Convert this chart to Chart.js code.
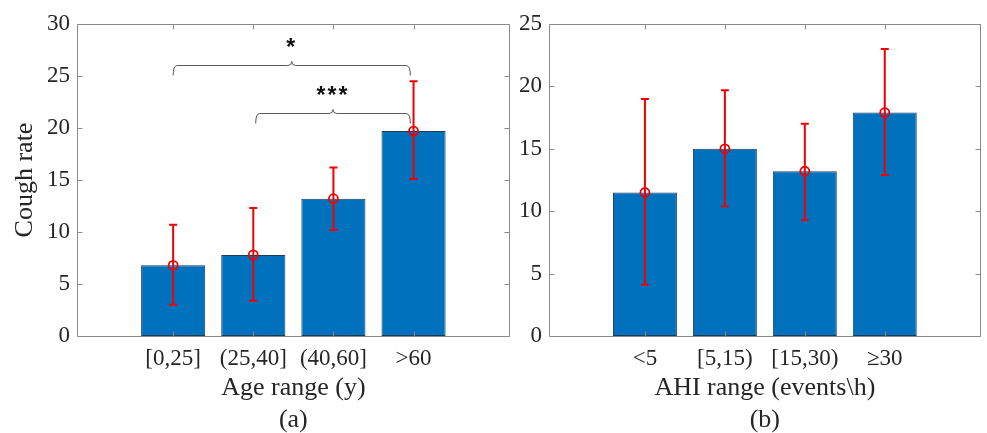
<!DOCTYPE html>
<html lang="en">
<head>
<meta charset="UTF-8">
<title>Cough rate by age and AHI</title>
<script src="https://cdn.jsdelivr.net/npm/chart.js@4"></script>
<style>
  body { margin: 0; background: #ffffff; overflow: hidden; }
  #wrap { position: relative; width: 987px; height: 433px; }
  canvas { position: absolute; top: 0; }
  #ageChart { left: 0; }
  #ahiChart { left: 505px; }
</style>
</head>
<body>
<div id="wrap">
  <canvas id="ageChart" width="516" height="433"></canvas>
  <canvas id="ahiChart" width="482" height="433"></canvas>
</div>
<script>
// panel (a): age groups
const ageLabels = ['[0,25]', '(25,40]', '(40,60]', '>60'];
const ageMean = [6.8, 7.8, 13.2, 19.7];
const ageLow = [3.0, 3.4, 10.2, 15.1];
const ageHigh = [10.7, 12.3, 16.2, 24.5];

// panel (b): AHI groups
const ahiLabels = ['<5', '[5,15)', '[15,30)', '≥30'];
const ahiMean = [11.5, 15.0, 13.2, 17.9];
const ahiLow = [4.1, 10.4, 9.3, 12.9];
const ahiHigh = [19.0, 19.7, 17.0, 23.0];

// significance brackets on panel (a)
const sigFrom = [1, 2.03];
const sigTo = [3.96, 3.96];
const sigLevel = [26.05, 21.4];
const sigText = ['*', '***'];

const SERIF = "'Liberation Serif', 'Times New Roman', serif";
const TEXT = '#262626';
const AXIS = '#8a8a8a';
const RED = '#f00000';

// box around the axes with inward ticks on all four sides
const framePlugin = {
  id: 'frame',
  afterDraw(chart) {
    const { ctx, chartArea: a, scales: { x, y } } = chart;
    const L = Math.round(a.left) + 0.5, R = Math.round(a.right) - 0.5;
    const T = Math.round(a.top) + 0.5, B = Math.round(a.bottom) + 0.5;
    ctx.save();
    ctx.strokeStyle = AXIS;
    ctx.lineWidth = 1;
    ctx.beginPath();
    ctx.moveTo(L, T); ctx.lineTo(R, T); ctx.lineTo(R, B); ctx.lineTo(L, B); ctx.closePath();
    y.ticks.forEach(t => {
      const py = Math.round(y.getPixelForValue(t.value)) + 0.5;
      ctx.moveTo(L, py); ctx.lineTo(L + 5, py);
      ctx.moveTo(R, py); ctx.lineTo(R - 5, py);
    });
    x.ticks.forEach(t => {
      const px = Math.round(x.getPixelForValue(t.value)) + 0.5;
      ctx.moveTo(px, T); ctx.lineTo(px, T + 5);
      ctx.moveTo(px, B); ctx.lineTo(px, B - 5);
    });
    ctx.stroke();
    ctx.restore();
  }
};

// red error bars, drawn right after the bars so the markers sit on top
const whiskerPlugin = {
  id: 'whiskers',
  afterDatasetDraw(chart, args, opts) {
    if (args.meta.type !== 'bar') return;
    const { ctx, scales: { x, y } } = chart;
    ctx.save();
    ctx.strokeStyle = RED;
    ctx.lineWidth = 2;
    opts.low.forEach((lo, i) => {
      const px = x.getPixelForValue(i + 1);
      const y1 = y.getPixelForValue(lo), y2 = y.getPixelForValue(opts.high[i]);
      ctx.beginPath();
      ctx.moveTo(px, y1); ctx.lineTo(px, y2);
      ctx.moveTo(px - 4, y1); ctx.lineTo(px + 4, y1);
      ctx.moveTo(px - 4, y2); ctx.lineTo(px + 4, y2);
      ctx.stroke();
    });
    ctx.restore();
  }
};

// curly brackets with significance stars
const bracketPlugin = {
  id: 'brackets',
  afterDraw(chart, args, opts) {
    if (!opts.from) return;
    const { ctx, scales: { x, y } } = chart;
    ctx.save();
    ctx.strokeStyle = '#5a5a5a';
    ctx.lineWidth = 1;
    ctx.fillStyle = '#111111';
    ctx.font = "bold 23px 'Liberation Sans', Arial, sans-serif";
    ctx.textAlign = 'center';
    ctx.textBaseline = 'alphabetic';
    opts.from.forEach((f, i) => {
      const x1 = x.getPixelForValue(f), x2 = x.getPixelForValue(opts.to[i]);
      const xm = (x1 + x2) / 2;
      const yl = Math.round(y.getPixelForValue(opts.level[i])) + 0.5;
      const drop = 10, peak = 4, r = 4;
      ctx.beginPath();
      ctx.moveTo(x1, yl + drop);
      ctx.quadraticCurveTo(x1, yl, x1 + r, yl);
      ctx.lineTo(xm - r, yl);
      ctx.quadraticCurveTo(xm, yl, xm, yl - peak);
      ctx.quadraticCurveTo(xm, yl, xm + r, yl);
      ctx.lineTo(x2 - r, yl);
      ctx.quadraticCurveTo(x2, yl, x2, yl + drop);
      ctx.stroke();

      const m = ctx.measureText(opts.text[i]);
      const cy = y.getPixelForValue(opts.level[i] + 2.2);
      const base = cy + (m.actualBoundingBoxAscent - m.actualBoundingBoxDescent) / 2;
      ctx.letterSpacing = '2px';
      ctx.fillText(opts.text[i], xm, base);
    });
    ctx.restore();
  }
};

function makePanel(id, cfg) {
  const canvas = document.getElementById(id);
  return new Chart(canvas, {
    type: 'bar',
    data: {
      datasets: [
        {
          type: 'line',
          order: 0,
          data: cfg.mean.map((v, i) => ({ x: i + 1, y: v })),
          showLine: false,
          pointRadius: 4.5,
          pointBorderWidth: 1.8,
          pointBorderColor: RED,
          pointBackgroundColor: 'rgba(0,0,0,0)'
        },
        {
          type: 'bar',
          order: 1,
          data: cfg.mean.map((v, i) => ({ x: i + 1, y: v })),
          backgroundColor: '#0072bd',
          borderColor: '#1d3b55',
          borderWidth: 1,
          borderSkipped: false,
          barPercentage: 0.8,
          categoryPercentage: 1
        }
      ]
    },
    options: {
      responsive: false,
      animation: false,
      events: [],
      layout: { padding: { top: 24, right: canvas.width - cfg.right, left: 0, bottom: 0 } },
      plugins: {
        legend: { display: false },
        tooltip: { enabled: false },
        whiskers: { low: cfg.low, high: cfg.high },
        brackets: cfg.brackets || {}
      },
      scales: {
        x: {
          type: 'linear',
          min: -0.2,
          max: 5.2,
          offset: false,
          grid: { display: false, drawTicks: false },
          border: { display: false },
          afterBuildTicks: s => { s.ticks = cfg.labels.map((_, i) => ({ value: i + 1 })); },
          afterFit: s => { s.height = 433 - 336; },
          ticks: {
            autoSkip: false,
            maxRotation: 0,
            padding: 9,
            color: TEXT,
            font: { family: SERIF, size: 23 },
            callback: (v, i) => cfg.labels[i]
          },
          title: {
            display: true,
            text: [cfg.xTitle, cfg.tag],
            color: TEXT,
            font: { family: SERIF, size: 26, lineHeight: '32px' },
            padding: { top: 0, bottom: -3 }
          }
        },
        y: {
          min: 0,
          max: cfg.yMax,
          grid: { display: false, drawTicks: false },
          border: { display: false },
          afterFit: s => { s.width = cfg.left; },
          ticks: {
            stepSize: 5,
            padding: 7,
            color: TEXT,
            font: { family: SERIF, size: 23 }
          },
          title: {
            display: !!cfg.yTitle,
            text: cfg.yTitle || '',
            color: TEXT,
            font: { family: SERIF, size: 26 },
            padding: { top: 10, bottom: 0 }
          }
        }
      }
    },
    plugins: [whiskerPlugin, framePlugin, bracketPlugin]
  });
}

makePanel('ageChart', {
  labels: ageLabels, mean: ageMean, low: ageLow, high: ageHigh,
  yMax: 30, yTitle: 'Cough rate', xTitle: 'Age range (y)', tag: '(a)',
  left: 77, right: 512,
  brackets: { from: sigFrom, to: sigTo, level: sigLevel, text: sigText }
});

makePanel('ahiChart', {
  labels: ahiLabels, mean: ahiMean, low: ahiLow, high: ahiHigh,
  yMax: 25, xTitle: 'AHI range (events\\h)', tag: '(b)',
  left: 549 - 505, right: 983 - 505
});
</script>
</body>
</html>
